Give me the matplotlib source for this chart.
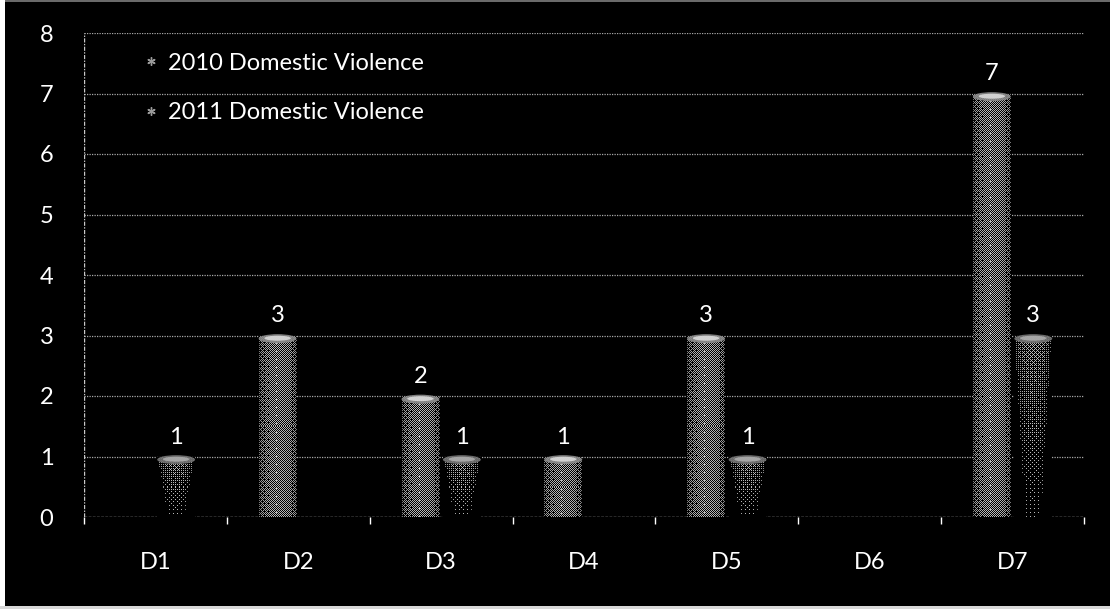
import numpy as np
import matplotlib
matplotlib.use("Agg")
import matplotlib.pyplot as plt
from matplotlib.patches import Rectangle, Ellipse

# ---- data -------------------------------------------------------------
districts = ["D1", "D2", "D3", "D4", "D5", "D6", "D7"]
series_names = ["2010 Domestic Violence", "2011 Domestic Violence"]
dv_2010 = [np.nan, 3, 2, 1, 3, np.nan, 7]
dv_2011 = [1, np.nan, 1, np.nan, 1, np.nan, 3]
y_ticks = [0, 1, 2, 3, 4, 5, 6, 7, 8]

plt.rcParams["font.family"] = ["Lato", "DejaVu Sans"]
FS = 17

W, H, DPI = 1110, 609, 100
fig = plt.figure(figsize=(W / DPI, H / DPI), dpi=DPI, facecolor="black")

# thin light frame around the dark slide panel
fig.patches.append(Rectangle((0, 0), 5 / W, 1, transform=fig.transFigure,
                             facecolor="white", edgecolor="none", zorder=-5))
fig.patches.append(Rectangle((0, 0), 1, 3 / H, transform=fig.transFigure,
                             facecolor="#d8d8d8", edgecolor="none", zorder=-5))
fig.patches.append(Rectangle((5 / W, 1 - 2 / H), 1 - 5 / W, 2 / H,
                             transform=fig.transFigure, facecolor="#6a6a6a",
                             edgecolor="none", zorder=-5))

ax = fig.add_axes([84 / W, 1 - 517 / H, 1000 / W, 484 / H])
ax.set_zorder(2)
ax.set_facecolor("black")

n = len(districts)
x = np.arange(n)
bar_w = 0.265
offs = [-0.145, 0.145]

ax.set_xlim(-0.5, n - 0.5)
ax.set_ylim(0, 8)

# grid / axes styling
for v in y_ticks[1:]:
    ax.axhline(v, color="#a8a8a8", lw=0.9, ls=(0, (1, 1)), zorder=1)
ax.axhline(0, color="#c8c8c8", lw=1.0, ls=(0, (2, 1)), zorder=1)
ax.axvline(-0.5, color="#c8c8c8", lw=1.0, ls=(0, (3, 1, 1, 1)), zorder=1)
for s in ax.spines.values():
    s.set_visible(False)

ax.set_yticks(y_ticks)
ax.set_yticklabels([str(t) for t in y_ticks])
ax.tick_params(axis="y", length=0, pad=22, labelsize=FS, labelcolor="white")

ax.set_xticks(np.arange(n + 1) - 0.5)
ax.set_xticklabels([])
ax.tick_params(axis="x", which="major", direction="out", length=5,
               width=1, color="white")
ax.set_xticks(x, minor=True)
ax.set_xticklabels(districts, minor=True)
ax.tick_params(axis="x", which="minor", length=0, pad=25, labelsize=FS,
               labelcolor="white")


def bayer(k):
    m = np.array([[0, 2], [3, 1]])
    while m.shape[0] < k:
        m = np.block([[4 * m, 4 * m + 2], [4 * m + 3, 4 * m + 1]])
    return (m + 0.5) / m.size


B = bayer(8)


def textured(bar, fading):
    x0, w, h = bar.get_x(), bar.get_width(), bar.get_height()
    p0 = ax.transData.transform((x0, 0))
    p1 = ax.transData.transform((x0 + w, h))
    pw = max(int(round(p1[0] - p0[0])), 2)
    ph = max(int(round(p1[1] - p0[1])), 2)
    u = np.linspace(-1, 1, pw)[None, :]
    t = np.linspace(1, 0, ph)[:, None]  # 1 at top row, 0 at bottom
    if fading:
        half = 0.45 + 0.55 * t
        prof = np.sqrt(np.clip(1 - (np.abs(u) / half) ** 2, 0, 1))
        inten = (0.06 + 0.36 * t ** 1.5) * (0.45 + 0.55 * prof)
        inten = inten * (np.abs(u) < half)
    else:
        prof = np.sqrt(np.clip(1 - u ** 2, 0, 1)) * np.ones_like(t)
        inten = 0.30 + 0.22 * prof
    thr = np.tile(B, (ph // 8 + 1, pw // 8 + 1))[:ph, :pw]
    on = inten > thr
    g = 0.48 + 0.25 * prof
    rgba = np.zeros((ph, pw, 4))
    rgba[..., 0] = g
    rgba[..., 1] = g
    rgba[..., 2] = g
    rgba[..., 3] = on.astype(float)
    im = ax.imshow(rgba, extent=(x0, x0 + w, 0, h), origin="upper",
                   interpolation="nearest", aspect="auto", zorder=3)
    im.set_clip_path(bar)

    # flat lit cap of the cylinder
    px_unit = (ax.transData.transform((0, 1))[1] -
               ax.transData.transform((0, 0))[1])
    e = 9 / px_unit
    cap = "#8c8c8c" if not fading else "#747474"
    ax.add_patch(Ellipse((x0 + w / 2, h - e * 0.35), w * 1.0, e,
                         facecolor=cap, edgecolor="none", alpha=0.9,
                         zorder=4))
    ax.add_patch(Ellipse((x0 + w / 2, h - e * 0.3), w * 0.7, e * 0.55,
                         facecolor="#e0e0e0" if not fading else "#b0b0b0",
                         edgecolor="none", alpha=0.85, zorder=5))


for vals, off, fading in [(dv_2010, offs[0], False), (dv_2011, offs[1], True)]:
    bars = ax.bar(x + off, vals, width=bar_w, color="black",
                  edgecolor="none", zorder=2)
    for b, v in zip(bars, vals):
        if np.isnan(v):
            continue
        textured(b, fading)
        ax.annotate(f"{v:g}", (b.get_x() + b.get_width() / 2, v),
                    xytext=(0, 9), textcoords="offset pixels",
                    ha="center", va="bottom", color="white", fontsize=FS,
                    zorder=6)

# ax.imshow resets limits; restore them
ax.set_xlim(-0.5, n - 0.5)
ax.set_ylim(0, 8)

# legend entries
for name, yy in zip(series_names, [7.5, 6.68]):
    ax.plot([-0.03], [yy + 0.03], marker=(6, 2, 0), ms=6, color="#9a9a9a",
            mew=1.0, ls="none", zorder=6)
    ax.text(0.085, yy, name, color="white", fontsize=FS, va="center",
            ha="left", zorder=6)

fig.savefig("out.png", dpi=DPI, facecolor=fig.get_facecolor())
